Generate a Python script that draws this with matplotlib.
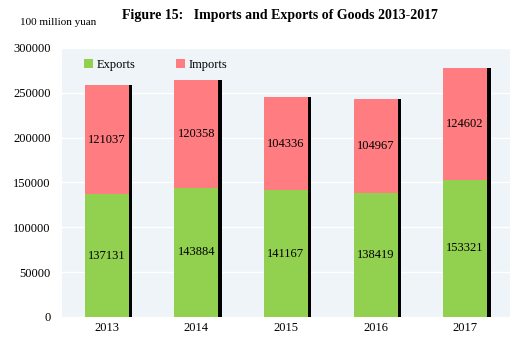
import numpy as np
import matplotlib.pyplot as plt
import matplotlib.patheffects as pe

years = ["2013", "2014", "2015", "2016", "2017"]
exports = [137131, 143884, 141167, 138419, 153321]
imports = [121037, 120358, 104336, 104967, 124602]

plt.rcParams['font.family'] = ['Liberation Serif', 'DejaVu Serif']

fig = plt.figure(figsize=(5.23, 3.47), dpi=100)
ax = fig.add_axes([0.1186, 0.0865, 0.8564, 0.7752])
ax.set_facecolor("#EEF4F8")

x = np.arange(len(years))
w = 0.49
shadow = [pe.SimplePatchShadow(offset=(2.5, 0), shadow_rgbFace="black", alpha=1), pe.Normal()]
b1 = ax.bar(x, exports, w, color="#92D050", label="Exports", zorder=3, path_effects=shadow)
b2 = ax.bar(x, imports, w, bottom=exports, color="#FF7C80", label="Imports", zorder=3, path_effects=shadow)

for i in range(len(years)):
    ax.text(x[i], exports[i] / 2, str(exports[i]), ha="center", va="center", fontsize=9, zorder=4)
    ax.text(x[i], exports[i] + imports[i] / 2, str(imports[i]), ha="center", va="center", fontsize=9, zorder=4)

ax.set_xlim(-0.5, 4.5)
ax.set_ylim(0, 300000)
ax.set_yticks(np.arange(0, 300001, 50000))
ax.set_xticks(x)
ax.set_xticklabels(years)
ax.tick_params(length=0, labelsize=9)
ax.tick_params(axis="y", pad=8)
ax.grid(axis="y", color="white", linewidth=1, zorder=1)
for s in ax.spines.values():
    s.set_visible(False)

leg = ax.legend(loc="upper left", ncol=2, frameon=False, fontsize=9, handlelength=0.7, handleheight=0.7,
                columnspacing=3.2, handletextpad=0.3, bbox_to_anchor=(0.025, 1.0))
for h in leg.legend_handles:
    h.set_path_effects([])

fig.text(0.535, 0.955, "Figure 15:   Imports and Exports of Goods 2013-2017", ha="center", va="center",
         fontsize=10, fontweight="bold")
fig.text(0.038, 0.935, "100 million yuan", ha="left", va="center", fontsize=8)

fig.savefig("out.png")
